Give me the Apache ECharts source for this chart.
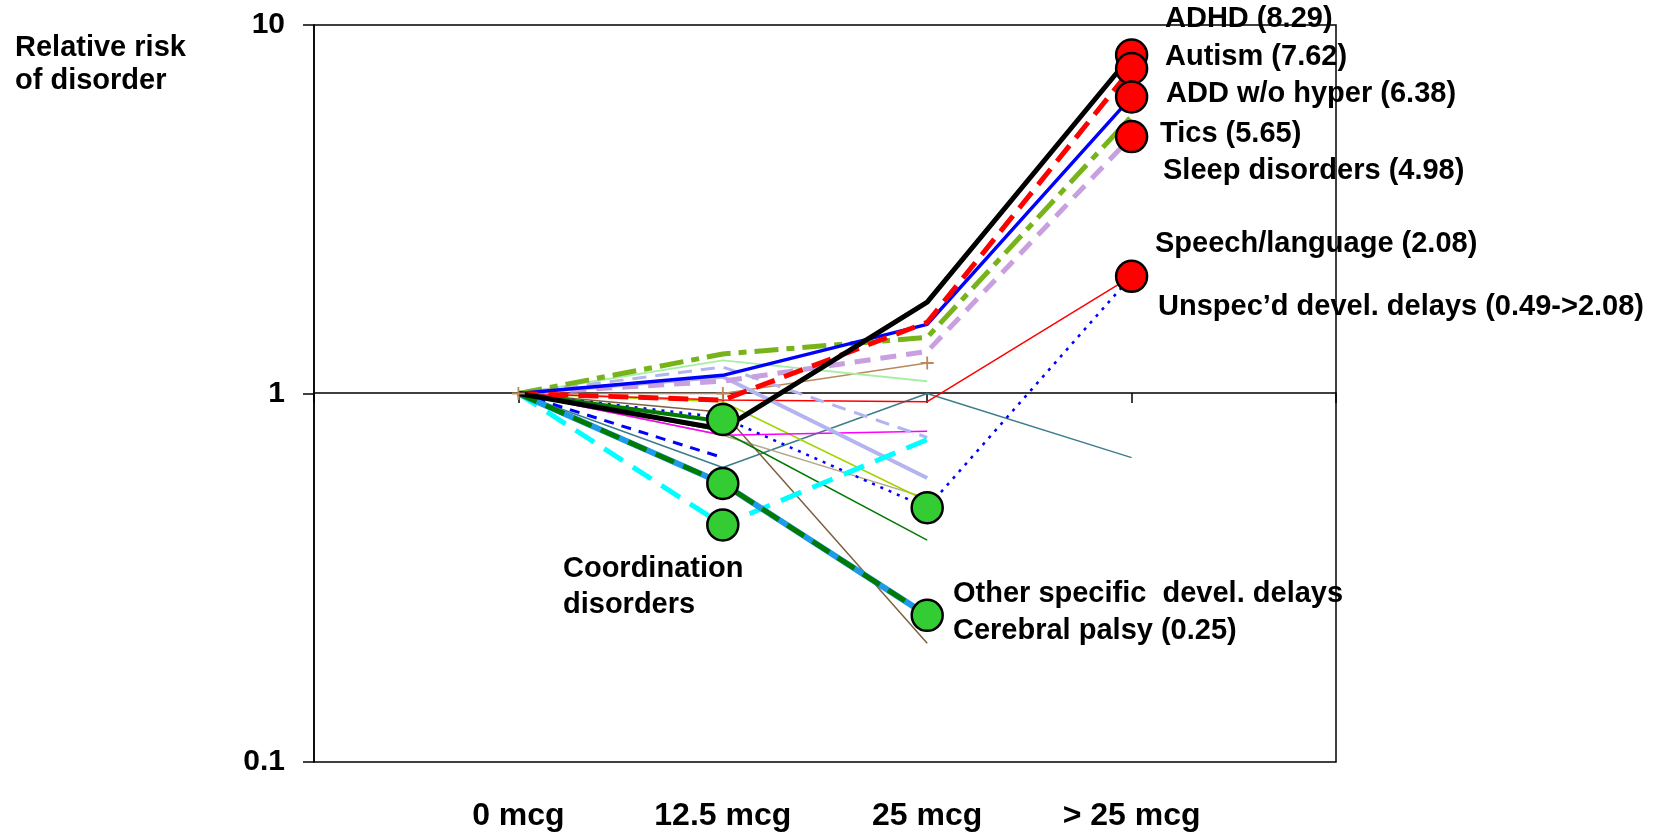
<!DOCTYPE html>
<html>
<head>
<meta charset="utf-8">
<script src="https://cdn.jsdelivr.net/npm/echarts@6/dist/echarts.min.js"></script>
<style>
html,body{margin:0;padding:0;background:#fff;}
#chart{width:1674px;height:834px;}
</style>
</head>
<body>
<div id="chart"></div>
<script>
// ---- data ----
const doses = ['0 mcg', '12.5 mcg', '25 mcg', '> 25 mcg'];
const yTicks = [0.1, 1, 10];
const yTitle = 'Relative risk\nof disorder';

// values at [0 mcg, 12.5 mcg, 25 mcg, > 25 mcg]
const adhd        = [1, 0.80, 1.77, 8.29];
const autism      = [1, 0.96, 1.56, 7.62];
const addNoHyper  = [1, 1.12, 1.54, 6.38];
const tics        = [1, 1.28, 1.42, 5.65];
const sleep       = [1, 1.08, 1.30, 4.98];
const speech      = [1, 0.96, 0.95, 2.08];
const unspecDelay = [1, 0.86, 0.49, 2.08];
const tealSeries  = [1, 0.63, 1.00, 0.67];
const brownPlus   = [1, 1.00, 1.21, null];
const lightGreen  = [1, 1.23, 1.08, null];
const lavender    = [1, 1.11, 0.59, null];
const lavenderDash= [1, 1.18, 0.76, null];
const magenta     = [1, 0.77, 0.79, null];
const yellowGreen = [1, 0.95, 0.51, null];
const tan         = [1, 0.77, 0.52, null];
const darkBrown   = [1, 0.89, 0.21, null];
const darkGreen   = [1, 0.79, 0.40, null];
const coordination= [1, 0.84, null, null];
const darkGray    = [1, 0.57, null, null];
const blueDash    = [1, 0.67, null, null];
const cyanDash    = [1, 0.44, 0.75, null];
const cerebral    = [1, 0.57, 0.25, null];
const otherSpec   = [1, 0.57, 0.25, null];

const redCircles      = [8.29, 7.62, 6.38, 4.98, 2.08];
const greenCircles125 = [0.85, 0.57, 0.44];
const greenCircles25  = [0.49, 0.25];

const annotations = [
  'ADHD (8.29)', 'Autism (7.62)', 'ADD w/o hyper (6.38)', 'Tics (5.65)',
  'Sleep disorders (4.98)', 'Speech/language (2.08)',
  'Unspec\u2019d devel. delays (0.49->2.08)',
  'Other specific  devel. delays', 'Cerebral palsy (0.25)',
  'Coordination\ndisorders'
];

// ---- build ----
const axisCats = [''].concat(doses, ['']);
const pad = v => [null].concat(v, [null]);
const FONT = '"Liberation Sans", Arial, sans-serif';
const PLUS = 'path://M4.3,0h1.4v4.3h4.3v1.4h-4.3v4.3h-1.4v-4.3h-4.3v-1.4h4.3z';

function line(data, color, width, type, extra) {
  return Object.assign({
    type: 'line', data: pad(data), showSymbol: false, symbol: 'none',
    connectNulls: false, silent: true,
    lineStyle: { color: color, width: width, type: type || 'solid', cap: 'butt' },
    z: 2
  }, extra || {});
}

const series = [
  line(darkGray, '#505050', 1.5),
  line(tealSeries, '#3c7d8c', 1.5),
  line(tan, '#b4a886', 1.5),
  line(yellowGreen, '#a4d400', 1.5),
  line(darkBrown, '#7f6040', 1.5),
  line(darkGreen, '#007a00', 1.5),
  line(magenta, '#ff00ff', 1.5),
  line(brownPlus, '#b8895e', 1.5, 'solid', {
    showSymbol: true, symbol: PLUS, symbolSize: 13,
    itemStyle: { color: '#b8895e', opacity: 1 }
  }),
  line(lightGreen, '#a6f0a6', 2),
  line(speech, '#ff0000', 1.5),
  line(lavender, '#b4b4f0', 4),
  line(lavenderDash, '#b4b4f0', 3, [14, 9]),
  line(blueDash, '#0000ff', 3, [10, 8]),
  line(unspecDelay, '#0000ff', 2.5, [3, 6]),
  line(cyanDash, '#00ffff', 5, [22, 12]),
  line(cerebral, '#1e9be6', 6),
  line(otherSpec, '#007a00', 5, [20, 10]),
  line(coordination, '#007a00', 4),
  line(sleep, '#c8a0e0', 5, [16, 10]),
  line(tics, '#77b31a', 5, [24, 8, 8, 8]),
  line(addNoHyper, '#0000ff', 3.5),
  line(autism, '#ff0000', 5, [20, 10]),
  line(adhd, '#000000', 5),
  {
    type: 'scatter', symbol: 'circle', symbolSize: 31, silent: true, z: 5,
    itemStyle: { color: '#ff0000', borderColor: '#000', borderWidth: 2.5, opacity: 1 },
    data: redCircles.map(v => [doses[3], v])
  },
  {
    type: 'scatter', symbol: 'circle', symbolSize: 31, silent: true, z: 5,
    itemStyle: { color: '#33cc33', borderColor: '#000', borderWidth: 2.5, opacity: 1 },
    data: greenCircles125.map(v => [doses[1], v]).concat(greenCircles25.map(v => [doses[2], v]))
  }
];

const textStyle = (t, x, y, extra) => ({
  type: 'text', left: x, top: y, z: 100,
  style: Object.assign({ text: t, fill: '#000', font: 'bold 29px ' + FONT }, extra || {})
});

const annPos = [
  [1165, 4], [1165, 42], [1166, 79], [1160, 119], [1163, 156],
  [1155, 229], [1158, 292], [953, 579], [953, 616]
];
const graphics = annPos.map((p, i) => textStyle(annotations[i], p[0], p[1]));
graphics.push({
  type: 'text', left: 563, top: 551, z: 100,
  style: { text: annotations[9], fill: '#000', font: 'bold 29px ' + FONT, align: 'center', lineHeight: 36, x: 92 }
});
graphics.push(textStyle(yTitle, 15, 31, { lineHeight: 33 }));

const chart = echarts.init(document.getElementById('chart'), null, { renderer: 'canvas' });
chart.setOption({
  animation: false,
  backgroundColor: '#fff',
  grid: { left: 314, right: 338, top: 25, bottom: 72, show: true, borderColor: '#000', borderWidth: 1.5, backgroundColor: 'transparent' },
  xAxis: [
    {
      type: 'category', data: axisCats, boundaryGap: false, position: 'bottom', offset: -369,
      axisLine: { show: true, lineStyle: { color: '#000', width: 1.5 } },
      axisTick: { show: true, length: 10, interval: 0, lineStyle: { color: '#000', width: 1.5 } },
      axisLabel: { show: false }, splitLine: { show: false }
    },
    {
      type: 'category', data: axisCats, boundaryGap: false, position: 'bottom', offset: 0,
      axisLine: { show: false }, axisTick: { show: false }, splitLine: { show: false },
      axisLabel: { show: true, interval: 0, margin: 38, color: '#000', fontSize: 32, fontWeight: 'bold', fontFamily: FONT }
    }
  ],
  yAxis: {
    type: 'log', logBase: 10, min: yTicks[0], max: yTicks[yTicks.length - 1],
    axisLine: { show: true, lineStyle: { color: '#000', width: 1.5 } },
    axisTick: { show: true, length: 11, lineStyle: { color: '#000', width: 1.5 } },
    splitLine: { show: false },
    axisLabel: { margin: 29, color: '#000', fontSize: 30, fontWeight: 'bold', fontFamily: FONT,
      formatter: v => String(+Number(v).toPrecision(3)) }
  },
  series: series,
  graphic: graphics
});
</script>
</body>
</html>
